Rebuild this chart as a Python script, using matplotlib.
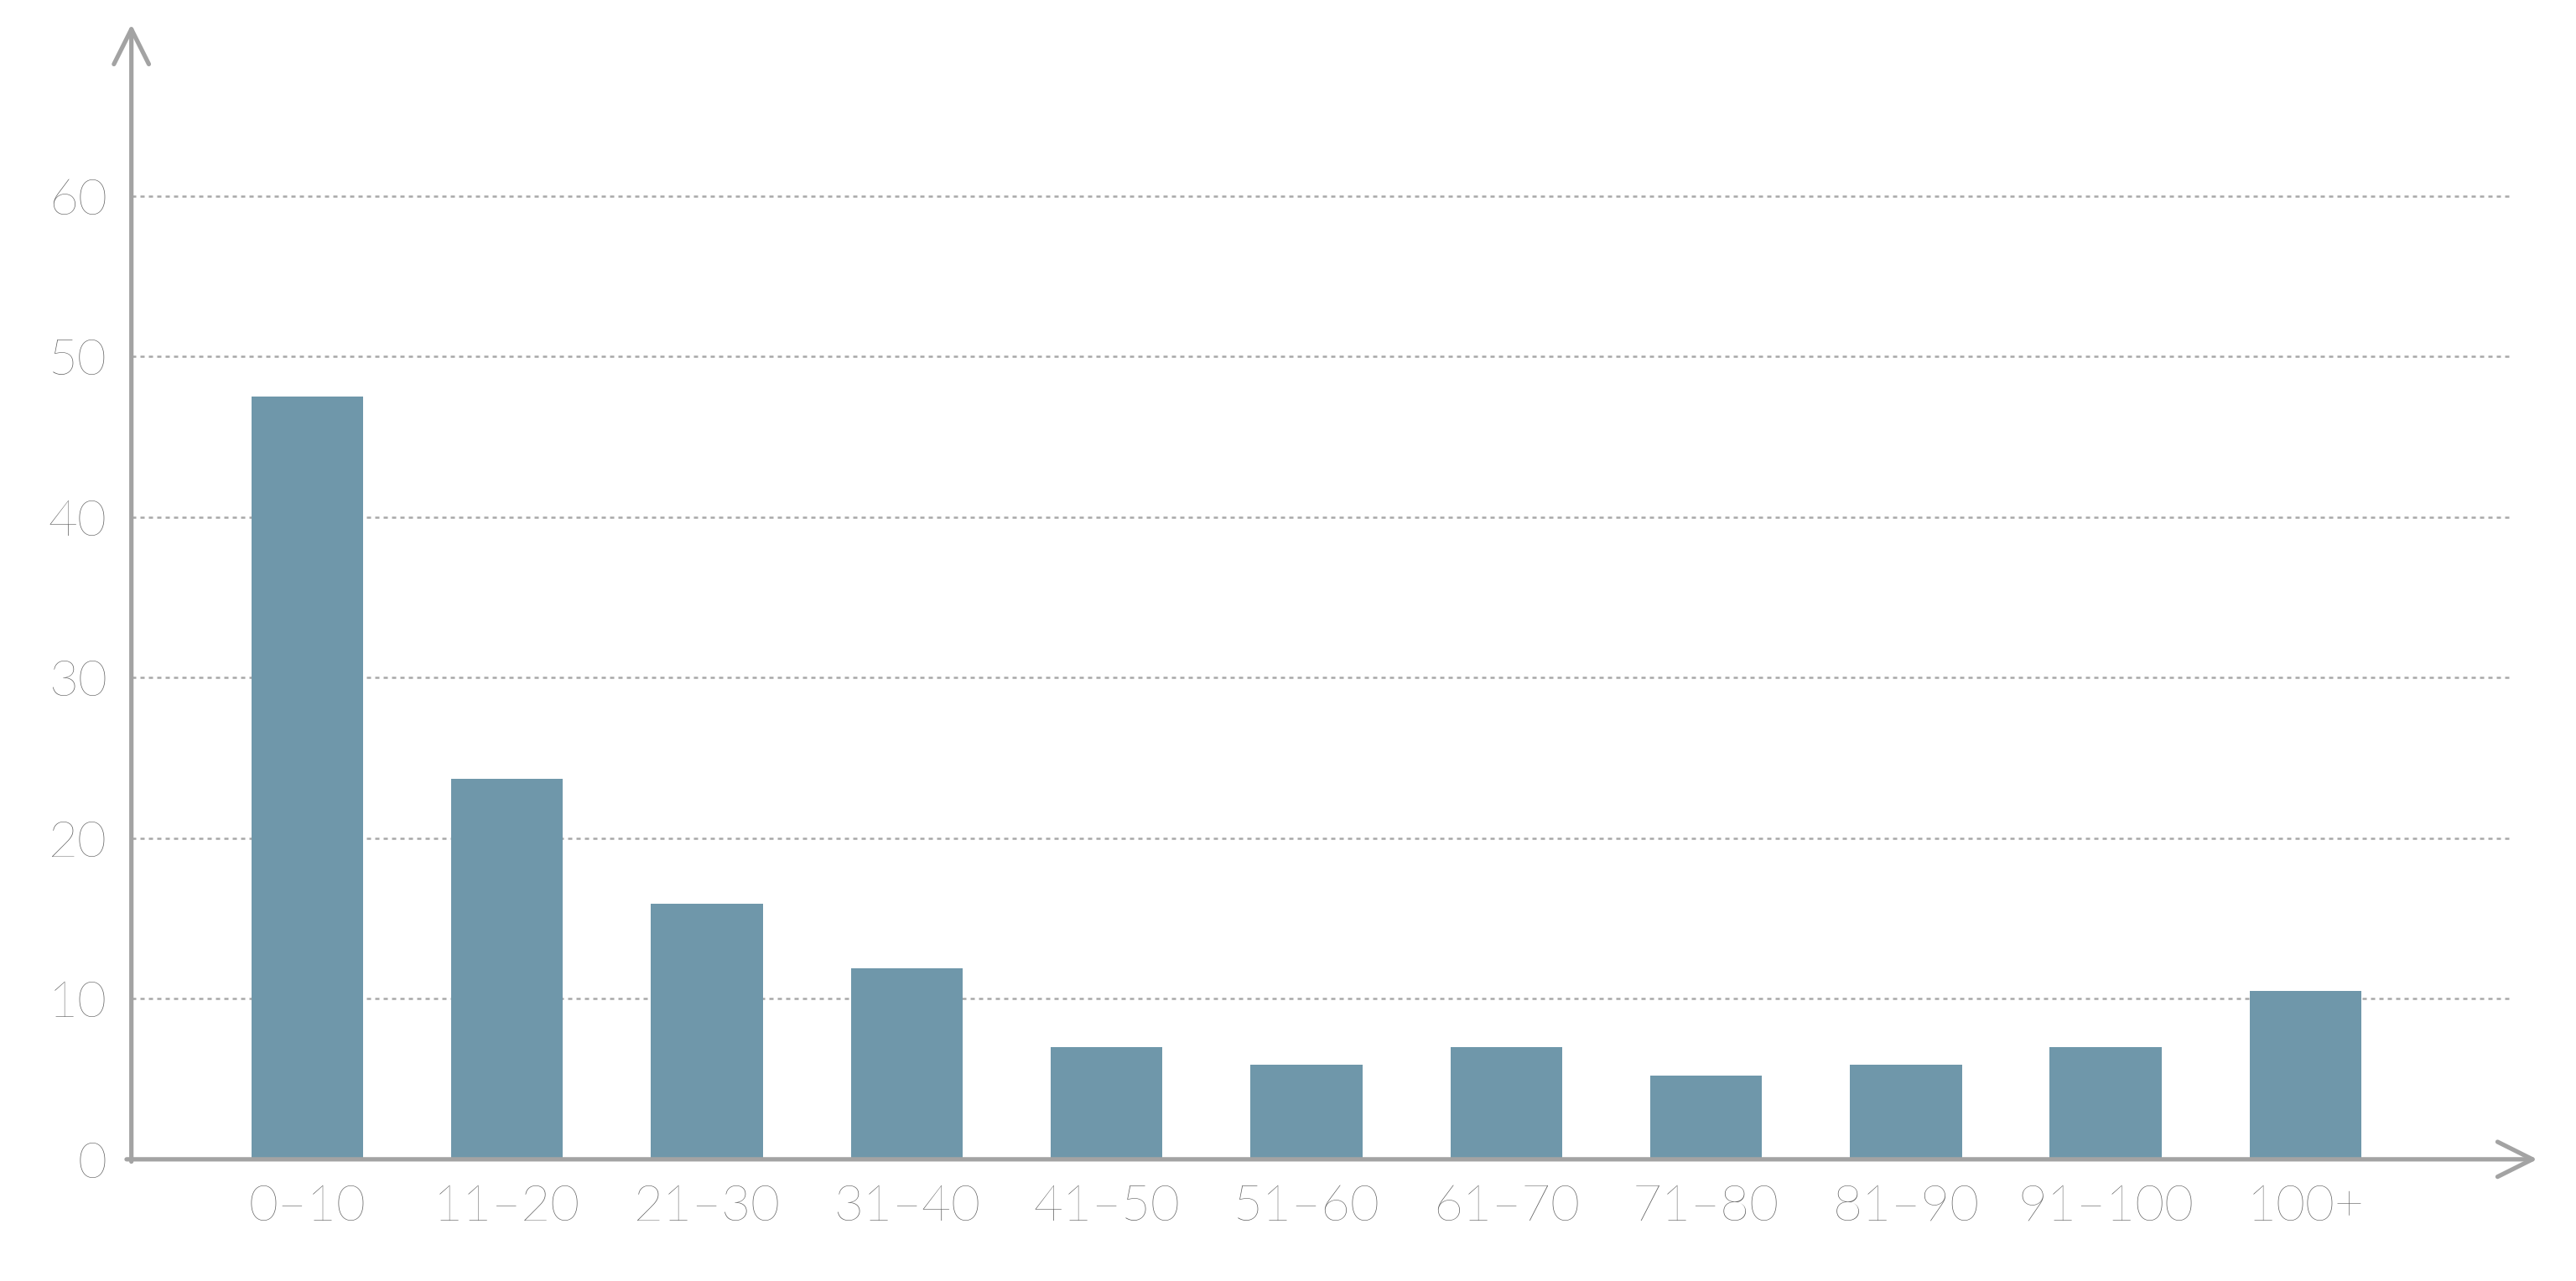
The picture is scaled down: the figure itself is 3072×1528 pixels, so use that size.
import matplotlib
matplotlib.use("Agg")
import matplotlib.pyplot as plt

categories = ["0–10", "11–20", "21–30", "31–40", "41–50", "51–60",
              "61–70", "71–80", "81–90", "91–100", "100+"]
values = [47.5, 23.7, 15.9, 11.9, 7.0, 5.9, 7.0, 5.2, 5.9, 7.0, 10.5]
yticks = [0, 10, 20, 30, 40, 50, 60]

plt.rcParams["font.family"] = ["Lato", "DejaVu Sans"]
axis_color = "#a3a3a3"
text_color = "#5a5a5a"

fig = plt.figure(figsize=(20.48, 10.1867), dpi=150)
ax = fig.add_axes([0.051, 0.095, 0.934, 0.886])

x = list(range(len(categories)))
ax.bar(x, values, width=0.56, color="#6f97aa", zorder=3)

ax.set_xlim(-0.88, 11.16)
ax.set_ylim(0, 70.7)

# dotted grid lines stopping short of the arrow
gx_end = (11.04 + 0.88) / (11.16 + 0.88)
for t in yticks[1:]:
    ax.axhline(t, xmin=0, xmax=gx_end, color="#a8a8a8", lw=1.2,
               linestyle=(0, (2, 2)), zorder=1)

for s in ax.spines.values():
    s.set_visible(False)

arrow = dict(arrowstyle="->,head_length=2.0,head_width=1.0", lw=2.5, color=axis_color,
             shrinkA=0, shrinkB=0)
ax.annotate("", xy=(1.0, 0), xytext=(-0.002, 0), xycoords="axes fraction", arrowprops=arrow)
ax.annotate("", xy=(0, 1.0), xytext=(0, -0.002), xycoords="axes fraction", arrowprops=arrow)

ax.set_xticks(x)
ax.set_xticklabels(categories, fontsize=29, color=text_color, fontweight="light")
ax.set_yticks(yticks)
ax.set_yticklabels([str(t) for t in yticks], fontsize=29, color=text_color, fontweight="light")
ax.tick_params(length=0, pad=14)

fig.savefig("out.png", facecolor="white")
